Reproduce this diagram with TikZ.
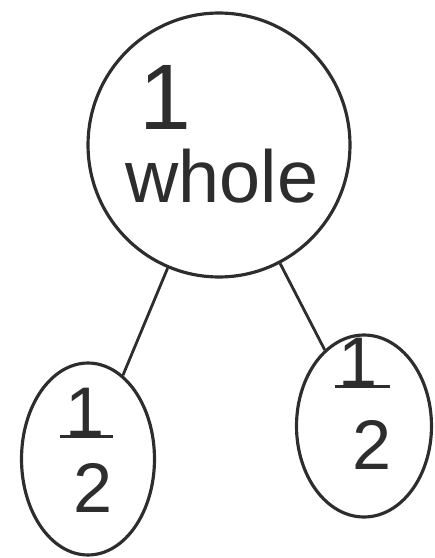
\documentclass[tikz,border=0pt]{standalone}
\usepackage{fontspec}
\setmainfont{Liberation Sans}
\usetikzlibrary{shapes.geometric}
\definecolor{pencil}{RGB}{45, 45, 45}

\begin{document}
\begin{tikzpicture}[
    x=0.02cm, y=-0.02cm,
    blob/.style={
        draw=pencil, line width=1.8pt, ellipse, inner sep=0pt
    },
    digit/.style={
        text=pencil, inner sep=0pt, font=\fontsize{40}{40}\selectfont
    },
    link/.style={draw=pencil, line width=1.6pt},
    bar/.style={draw=pencil, line width=1.8pt}
]
\useasboundingbox (0,0) rectangle (435,558);

% WHOLE - big circle on top
\node[blob, minimum width=5.24cm, minimum height=5.28cm] at (219, 145) (whole) {};
\node[digit, font=\fontsize{53}{53}\selectfont] at (165, 97) (wholeone) {1};
\node[digit, font=\fontsize{42}{42}\selectfont] at (222, 176) (wholeword) {whole};

% HALVES
\node[blob, minimum width=2.66cm, minimum height=3.84cm] at (88, 459) (lhalf) {};
\node[blob, minimum width=2.7cm, minimum height=3.64cm] at (364, 426) (rhalf) {};

% left fraction
\node[digit] at (85, 412) (lnum) {1};
\node[digit] at (93, 488) (lden) {2};
\draw[bar] ([xshift=-0.5cm]lnum.south) -- ([xshift=0.56cm]lnum.south);

% right fraction
\node[digit] at (358, 362) (rnum) {1};
\node[digit] at (372, 445) (rden) {2};
\draw[bar] ([xshift=-0.46cm]rnum.south) -- ([xshift=0.64cm]rnum.south);

% LINKS
\draw[link] (whole) -- (lhalf);
\draw[link] (whole) -- (rhalf);

\end{tikzpicture}
\end{document}
